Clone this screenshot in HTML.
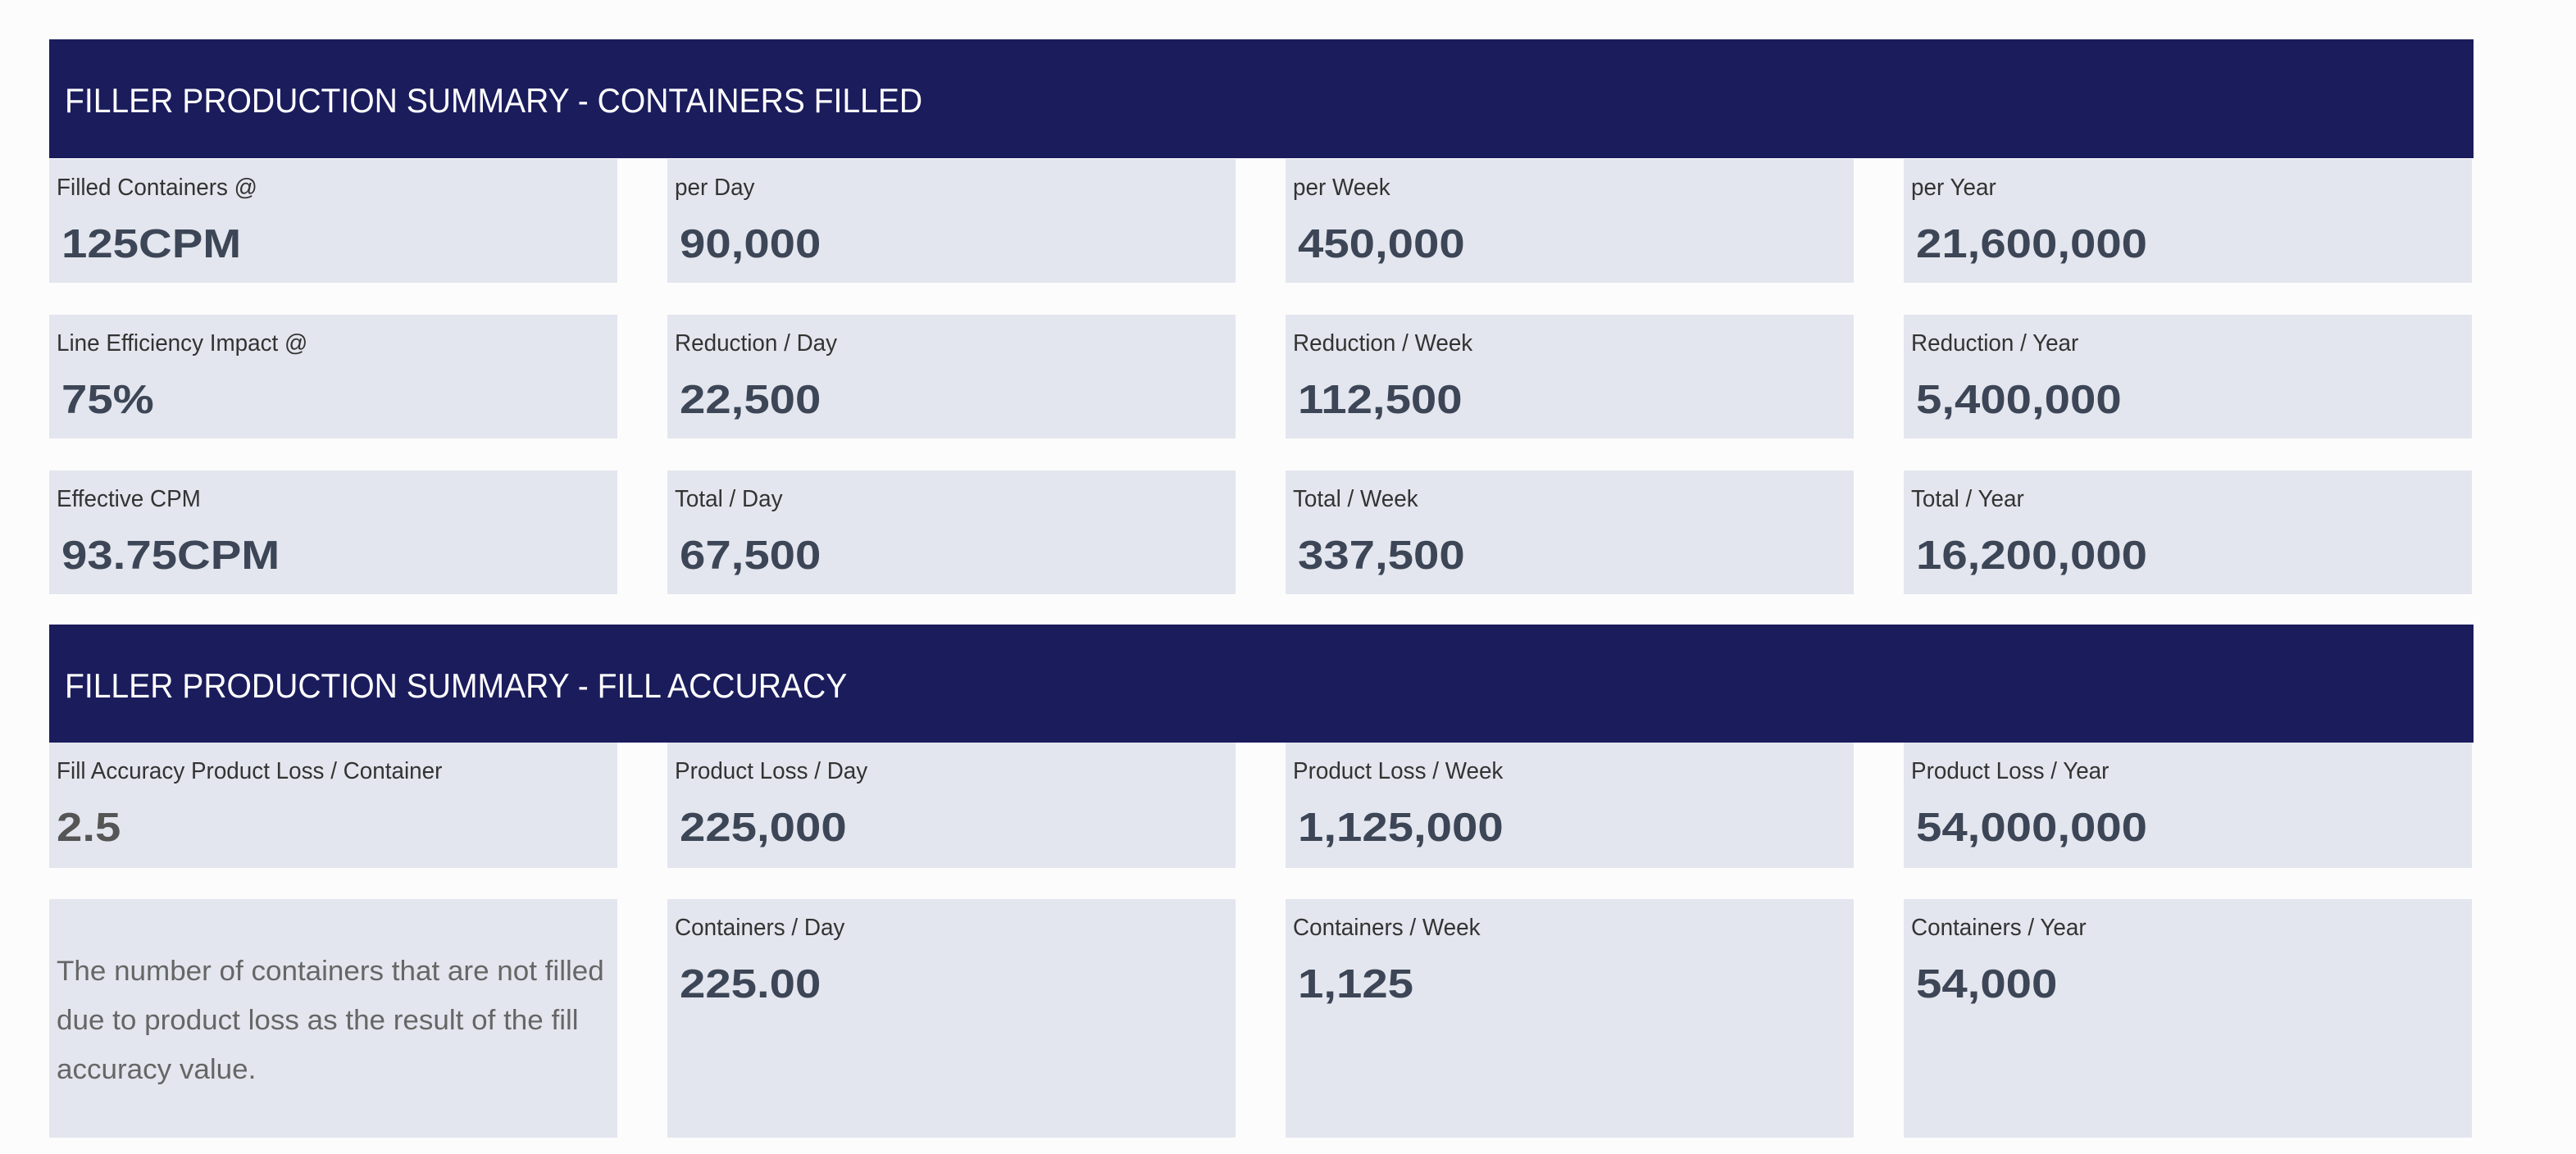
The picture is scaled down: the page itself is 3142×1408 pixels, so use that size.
<!DOCTYPE html>
<html><head><meta charset="utf-8"><style>
body{margin:0;width:3142px;height:1408px;background:#fcfcfc;position:relative;overflow:hidden;font-family:"Liberation Sans",sans-serif}
.h{position:absolute;left:60px;width:2957px;background:#1b1c5c;height:145px}
.h span{position:absolute;left:19px;top:54px;font-size:42px;line-height:42px;color:#fff;white-space:nowrap;transform:scaleX(0.93);transform-origin:left}
.c{position:absolute;width:693px;background:#e3e6ee}
.l{position:absolute;left:9px;top:21px;font-size:29px;line-height:29px;color:#333;white-space:nowrap;transform:scaleX(0.96);transform-origin:left}
.v{position:absolute;left:15px;top:80px;font-size:49px;line-height:49px;font-weight:bold;color:#3d4656;white-space:nowrap;transform:scaleX(1.15);transform-origin:left}
.p{position:absolute;left:9px;top:58px;font-size:34px;line-height:60px;color:#666;white-space:nowrap;transform:scaleX(1.03);transform-origin:left}
</style></head><body>
<div class="h" style="top:48px"><span>FILLER PRODUCTION SUMMARY - CONTAINERS FILLED</span></div>

<div class="c" style="left:60px;top:194px;height:151px"><div class="l">Filled Containers @</div><div class="v">125CPM</div></div>
<div class="c" style="left:814px;top:194px;height:151px"><div class="l">per Day</div><div class="v">90,000</div></div>
<div class="c" style="left:1568px;top:194px;height:151px"><div class="l">per Week</div><div class="v">450,000</div></div>
<div class="c" style="left:2322px;top:194px;height:151px"><div class="l">per Year</div><div class="v">21,600,000</div></div>

<div class="c" style="left:60px;top:384px;height:151px"><div class="l">Line Efficiency Impact @</div><div class="v">75%</div></div>
<div class="c" style="left:814px;top:384px;height:151px"><div class="l">Reduction / Day</div><div class="v">22,500</div></div>
<div class="c" style="left:1568px;top:384px;height:151px"><div class="l">Reduction / Week</div><div class="v">112,500</div></div>
<div class="c" style="left:2322px;top:384px;height:151px"><div class="l">Reduction / Year</div><div class="v">5,400,000</div></div>

<div class="c" style="left:60px;top:574px;height:151px"><div class="l">Effective CPM</div><div class="v">93.75CPM</div></div>
<div class="c" style="left:814px;top:574px;height:151px"><div class="l">Total / Day</div><div class="v">67,500</div></div>
<div class="c" style="left:1568px;top:574px;height:151px"><div class="l">Total / Week</div><div class="v">337,500</div></div>
<div class="c" style="left:2322px;top:574px;height:151px"><div class="l">Total / Year</div><div class="v">16,200,000</div></div>

<div class="h" style="top:762px;height:144px"><span>FILLER PRODUCTION SUMMARY - FILL ACCURACY</span></div>

<div class="c" style="left:60px;top:906px;height:153px"><div class="l">Fill Accuracy Product Loss / Container</div><div class="v" style="left:9px;color:#555">2.5</div></div>
<div class="c" style="left:814px;top:906px;height:153px"><div class="l">Product Loss / Day</div><div class="v">225,000</div></div>
<div class="c" style="left:1568px;top:906px;height:153px"><div class="l">Product Loss / Week</div><div class="v">1,125,000</div></div>
<div class="c" style="left:2322px;top:906px;height:153px"><div class="l">Product Loss / Year</div><div class="v">54,000,000</div></div>

<div class="c" style="left:60px;top:1097px;height:291px"><div class="p">The number of containers that are not filled<br>due to product loss as the result of the fill<br>accuracy value.</div></div>
<div class="c" style="left:814px;top:1097px;height:291px"><div class="l">Containers / Day</div><div class="v">225.00</div></div>
<div class="c" style="left:1568px;top:1097px;height:291px"><div class="l">Containers / Week</div><div class="v">1,125</div></div>
<div class="c" style="left:2322px;top:1097px;height:291px"><div class="l">Containers / Year</div><div class="v">54,000</div></div>
</body></html>
